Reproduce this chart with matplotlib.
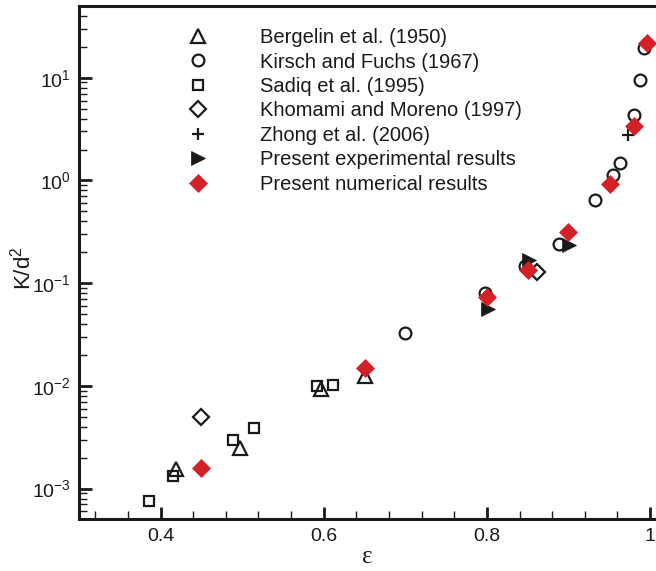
import numpy as np
import matplotlib
matplotlib.use('Agg')
import matplotlib.pyplot as plt
from matplotlib.ticker import MultipleLocator, FuncFormatter, LogLocator

plt.rcParams['font.family'] = ['Liberation Sans', 'DejaVu Sans']
plt.rcParams['mathtext.default'] = 'regular'
plt.rcParams['axes.unicode_minus'] = False

# porosity eps vs K/d^2
berg_eps = [0.419, 0.497, 0.597, 0.650]
berg_k = [1.55e-3, 2.5e-3, 9.3e-3, 1.24e-2]

kirsch_eps = [0.700, 0.798, 0.847, 0.888, 0.933, 0.954, 0.963, 0.980, 0.988, 0.992]
kirsch_k = [3.3e-2, 0.081, 0.148, 0.240, 0.64, 1.12, 1.49, 4.37, 9.6, 19.7]

sadiq_eps = [0.386, 0.415, 0.489, 0.514, 0.592, 0.611]
sadiq_k = [7.5e-4, 1.33e-3, 3.0e-3, 3.9e-3, 9.9e-3, 1.02e-2]

khom_eps = [0.450, 0.862]
khom_k = [5.0e-3, 0.128]

zhong_eps = [0.973]
zhong_k = [2.75]

exp_eps = [0.801, 0.852, 0.901]
exp_k = [0.056, 0.170, 0.237]

num_eps = [0.450, 0.650, 0.800, 0.850, 0.900, 0.951, 0.980, 0.996]
num_k = [1.6e-3, 1.48e-2, 0.074, 0.134, 0.316, 0.93, 3.42, 21.7]

blk = '#1a1a1a'
red = '#d42027'
ew = 1.6

fig = plt.figure(figsize=(6.56, 5.71), dpi=100)
ax = fig.add_axes([0.1204, 0.0902, 0.8796, 0.8993])

ax.plot(berg_eps, berg_k, '^', ms=9.5, mfc='none', mec=blk, mew=ew, ls='none',
        label='Bergelin et al. (1950)')
ax.plot(kirsch_eps, kirsch_k, 'o', ms=8.5, mfc='none', mec=blk, mew=ew, ls='none',
        label='Kirsch and Fuchs (1967)')
ax.plot(sadiq_eps, sadiq_k, 's', ms=7.5, mfc='none', mec=blk, mew=ew, ls='none',
        label='Sadiq et al. (1995)')
ax.plot(khom_eps, khom_k, 'D', ms=8, mfc='none', mec=blk, mew=ew, ls='none',
        label='Khomami and Moreno (1997)')
ax.plot(zhong_eps, zhong_k, '+', ms=8.5, mec=blk, mew=ew, ls='none',
        label='Zhong et al. (2006)')
ax.plot(exp_eps, exp_k, '>', ms=9.5, mfc=blk, mec=blk, mew=0.5, ls='none',
        label='Present experimental results')
ax.plot(num_eps, num_k, 'D', ms=9, mfc=red, mec=red, mew=0.5, ls='none',
        label='Present numerical results', clip_on=False)

ax.set_yscale('log')
ax.set_xlim(0.3, 1.0073)
ax.set_ylim(5e-4, 50)

ax.xaxis.set_major_locator(MultipleLocator(0.2))
ax.xaxis.set_minor_locator(MultipleLocator(0.04))
ax.xaxis.set_major_formatter(FuncFormatter(lambda v, p: '%g' % round(v, 3)))
ax.yaxis.set_major_locator(LogLocator(base=10, numticks=10))
ax.yaxis.set_minor_locator(LogLocator(base=10, subs=np.arange(2, 10), numticks=20))

ax.tick_params(which='both', direction='in', top=False, right=False, labelsize=14, colors=blk)
ax.tick_params(which='major', length=9, width=2, pad=6)
ax.tick_params(which='minor', length=5.5, width=1)

for s in ['left', 'bottom', 'top']:
    ax.spines[s].set_linewidth(2.2)
    ax.spines[s].set_color(blk)
ax.spines['right'].set_visible(False)

ax.set_xlabel('ε', fontsize=18, labelpad=1, color=blk, family='Liberation Serif')
ax.set_ylabel('K/d$^2$', fontsize=16, color=blk)
ax.yaxis.set_label_coords(-0.076, 0.49)

leg = ax.legend(loc='upper left', bbox_to_anchor=(0.188, 0.957), frameon=False,
                fontsize=14.5, handlelength=1.0, handletextpad=2.6, labelspacing=0.27,
                borderpad=0, borderaxespad=0, numpoints=1)
for t in leg.get_texts():
    t.set_color(blk)

fig.savefig('out.png', dpi=100)
